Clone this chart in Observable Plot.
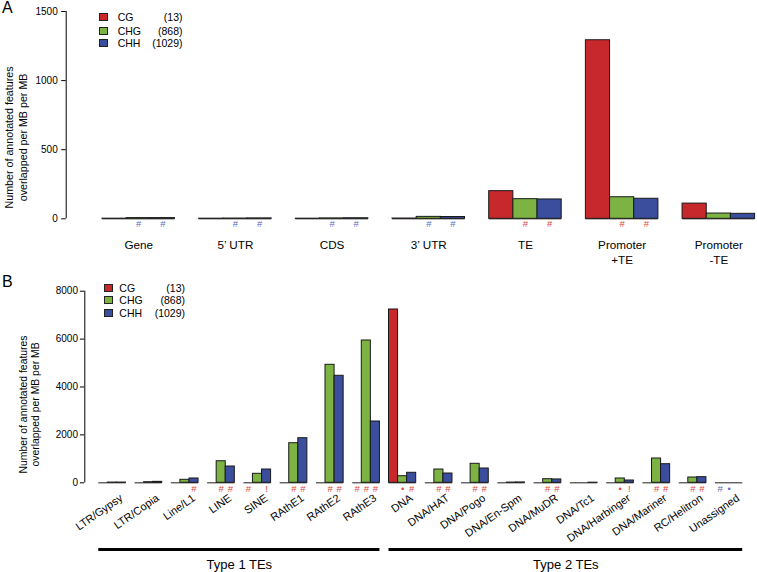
<!DOCTYPE html>
<html><head><meta charset="utf-8">
<script src="https://cdn.jsdelivr.net/npm/d3@7"></script>
<script src="https://cdn.jsdelivr.net/npm/@observablehq/plot@0.6"></script>
<style>
body{margin:0;background:#fff;font-family:"Liberation Sans",Arial,Helvetica,sans-serif;color:#000;}
#root{position:relative;width:757px;height:572px;overflow:hidden;}
.panel{position:absolute;left:0;}
.plabel{position:absolute;font-size:16px;line-height:16px;z-index:2;}
.lrow{position:absolute;height:14px;line-height:14px;font-size:10.5px;}
.lsw{position:absolute;width:7px;height:6px;border:1px solid #222;top:3px;}
.lname{position:absolute;}
.lcount{position:absolute;text-align:right;width:40px;}
</style></head><body><div id="root"></div>
<script>
// ---- shared ----
const series = ["CG", "CHG", "CHH"];
const seriesCounts = [13, 868, 1029];
const yTitle = "Number of annotated features\noverlapped per MB per MB";

// ---- panel A data ----
const categoriesA = ["Gene", "5\u2019 UTR", "CDS", "3\u2019 UTR", "TE", "Promoter\n+TE", "Promoter\n-TE"];
const cgA  = [1, 1, 1, 2, 200, 1292, 110];
const chgA = [5, 2, 3, 14, 142, 156, 38];
const chhA = [5, 3, 4, 13, 140, 145, 36];
const annCgA  = ["", "", "", "", "", "", ""];
const annChgA = ["#", "#", "#", "#", "#", "#", ""];
const annChhA = ["#", "#", "#", "#", "#", "#", ""];
const annDirA = ["down", "down", "down", "down", "up", "up", "up"];
const yTicksA = [0, 500, 1000, 1500];

// ---- panel B data ----
const categoriesB = ["LTR/Gypsy", "LTR/Copia", "Line/L1", "LINE", "SINE", "RAthE1", "RAthE2", "RAthE3",
  "DNA", "DNA/HAT", "DNA/Pogo", "DNA/En-Spm", "DNA/MuDR", "DNA/Tc1", "DNA/Harbinger", "DNA/Mariner", "RC/Helitron", "Unassigned"];
const cgB  = [0, 0, 0, 0, 0, 0, 0, 0, 7236, 0, 0, 0, 0, 0, 0, 0, 0, 0];
const chgB = [10, 25, 125, 900, 375, 1653, 4927, 5942, 276, 555, 793, 10, 150, 0, 180, 1015, 221, 0];
const chhB = [10, 40, 180, 680, 555, 1862, 4468, 2560, 418, 388, 597, 15, 140, 5, 96, 777, 235, 0];
const annCgB  = ["", "", "", "", "#", "", "", "#", "", "", "", "", "", "", "", "", "", "#"];
const annChgB = ["", "", "", "#", "", "#", "#", "#", "\u2022", "#", "#", "", "#", "", "\u2022", "#", "#", "\u2022"];
const annChhB = ["", "", "#", "#", "!", "#", "#", "#", "#", "#", "#", "", "#", "", "!", "#", "#", ""];
const annDirB = ["up", "up", "up", "up", "up", "up", "up", "up", "up", "up", "up", "up", "up", "up", "up", "up", "up", "down"];
const yTicksB = [0, 2000, 4000, 6000, 8000];
const typeLabels = ["Type 1 TEs", "Type 2 TEs"];
const typeFirst = ["LTR/Gypsy", "DNA"];
const typeLast = ["RAthE3", "Unassigned"];

// ---- styles ----
const barColors = ["#c7282b", "#7cb342", "#3a4e9d"];
const annColors = {up: "#e0473e", down: "#5a6cc4"};
const font = '"Liberation Sans", Arial, Helvetica, sans-serif';

function buildRows(cats, vals, anns, dirs) {
  const rows = [];
  cats.forEach((c, i) => {
    series.forEach((s, k) => {
      const x1 = 4 * i + 1 + k;
      rows.push({cat: c, series: s, value: vals[k][i], x1, x2: x1 + 1, xm: x1 + 0.5, ann: anns[k][i], dir: dirs[i]});
    });
  });
  return rows;
}
const catRows = cats => cats.map((c, i) => ({label: c, center: 4 * i + 2.5, start: 4 * i + 1, end: 4 * i + 4}));

const rowsA = buildRows(categoriesA, [cgA, chgA, chhA], [annCgA, annChgA, annChhA], annDirA);
const rowsB = buildRows(categoriesB, [cgB, chgB, chhB], [annCgB, annChgB, annChhB], annDirB);
const catA = catRows(categoriesA);
const catB = catRows(categoriesB);
const typeRows = typeLabels.map((t, j) => {
  const a = catB.find(d => d.label === typeFirst[j]);
  const b = catB.find(d => d.label === typeLast[j]);
  return {label: t, x1: a.start, x2: b.end, mid: (a.start + b.end) / 2};
});

function panel(o) {
  const yMax = o.yTicks[o.yTicks.length - 1];
  return Plot.plot({
    width: 757, height: o.height,
    marginLeft: o.ml, marginRight: 0, marginTop: o.mt, marginBottom: o.mb,
    x: {domain: o.xDomain, axis: null},
    y: {domain: [0, yMax]},
    color: {domain: series, range: barColors},
    style: {fontFamily: font, background: "transparent", color: "#000"},
    marks: [
      Plot.ruleY(o.rows, {x1: "x1", x2: "x2", y: 0, stroke: "#333", strokeWidth: 1.1}),
      Plot.rect(o.rows, {x1: "x1", x2: "x2", y1: 0, y2: "value", fill: "series", stroke: "#1a1a1a", strokeWidth: 1}),
      Plot.axisY(o.yTicks, {tickSize: o.tickSize, tickPadding: o.tickPad, fontSize: 10, label: null, tickFormat: d3.format("d")}),
      Plot.ruleX([o.xDomain[0]], {y1: 0, y2: yMax, stroke: "#000", strokeWidth: 1}),
      ...["up", "down"].map(dir => Plot.text(o.rows.filter(d => d.ann && d.dir === dir),
        {x: "xm", y: 0, text: "ann", dy: o.annDy, fill: annColors[dir], fontSize: 9.5})),
      Plot.text(o.cats, o.rot ?
        {x: "center", y: 0, text: "label", rotate: -35, textAnchor: "end", dx: o.catDx, dy: o.catDy, fontSize: 11} :
        {x: "center", y: 0, text: "label", lineAnchor: "top", dy: o.catDy, fontSize: 11.7, lineHeight: 1.33}),
      Plot.text([yTitle], {frameAnchor: "left", textAnchor: "middle", lineAnchor: "middle", rotate: -90, dx: o.tdx, dy: o.tdy, fontSize: o.tfs, lineHeight: o.tlh, text: d => d}),
      ...(o.extra || [])
    ]
  });
}

const plotA = panel({
  height: 270, ml: 65.7, mt: 11, mb: 51.7, xDomain: [-0.5, 28.1], rows: rowsA, cats: catA,
  yTicks: yTicksA, tickSize: 4.5, tickPad: 4, annDy: 5, rot: false, catDy: 19,
  tdx: -50.7, tdy: 22.3, tfs: 10.7, tlh: 1.34
});
const plotB = panel({
  height: 302, ml: 84.3, mt: 20.7, mb: 89.7, xDomain: [-0.54, 73.63], rows: rowsB, cats: catB,
  yTicks: yTicksB, tickSize: 4.3, tickPad: 2.5, annDy: 6.4, rot: true, catDx: 9, catDy: 14,
  tdx: -56, tdy: 17.5, tfs: 10.4, tlh: 1.15,
  extra: [
    Plot.ruleY(typeRows, {x1: "x1", x2: "x2", y: 0, dy: 66.7, stroke: "#000", strokeWidth: 3}),
    Plot.text(typeRows, {x: "mid", y: 0, dy: 81.7, text: "label", fontSize: 13})
  ]
});

const root = document.getElementById("root");
plotA.classList.add("panel"); plotA.style.top = "0px";
plotB.classList.add("panel"); plotB.style.top = "270px";
root.appendChild(plotA); root.appendChild(plotB);

function addText(cls, txt, left, top) {
  const d = document.createElement("div"); d.className = cls; d.textContent = txt;
  d.style.left = left + "px"; d.style.top = top + "px"; root.appendChild(d); return d;
}
addText("plabel", "A", 2, 0);
addText("plabel", "B", 2, 274);

function legend(sqLeft, nameLeft, countRight, centers) {
  series.forEach((s, k) => {
    const row = document.createElement("div"); row.className = "lrow";
    row.style.left = "0px"; row.style.top = (centers[k] - 7) + "px"; row.style.width = "200px";
    const sw = document.createElement("div"); sw.className = "lsw"; sw.style.left = sqLeft + "px"; sw.style.background = barColors[k];
    const nm = document.createElement("div"); nm.className = "lname"; nm.style.left = nameLeft + "px"; nm.textContent = s;
    const ct = document.createElement("div"); ct.className = "lcount"; ct.style.left = (countRight - 40) + "px"; ct.textContent = "(" + seriesCounts[k] + ")";
    row.appendChild(sw); row.appendChild(nm); row.appendChild(ct); root.appendChild(row);
  });
}
legend(98.7, 117.7, 182.5, [16.7, 30.5, 43.3]);
legend(104, 119.3, 185, [287.5, 300, 312.5]);
</script></body></html>
